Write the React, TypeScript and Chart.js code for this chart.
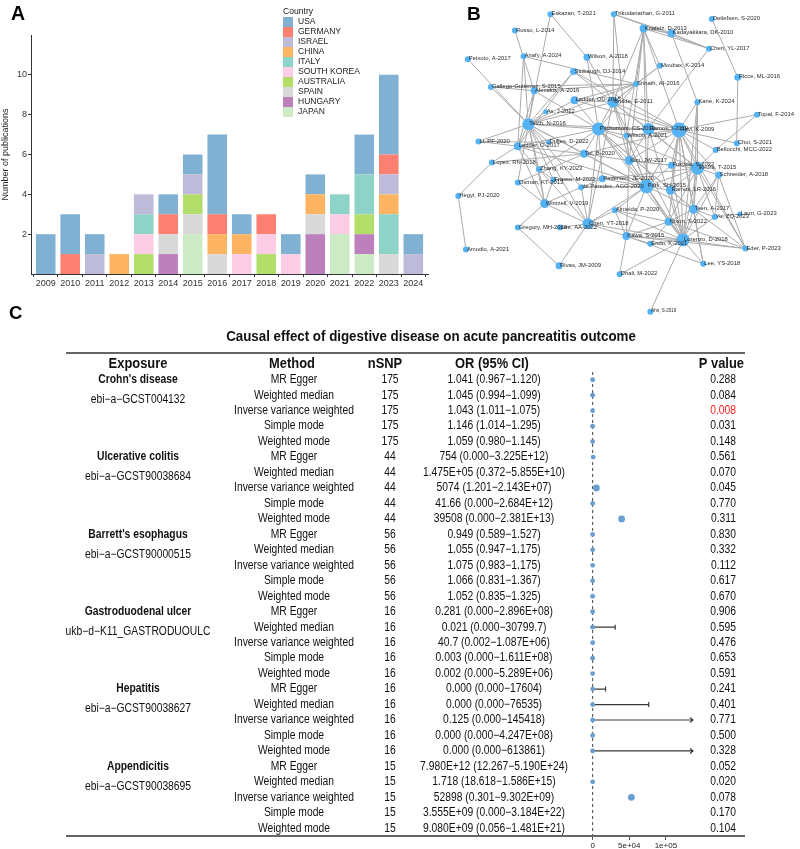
import React, { useEffect, useRef } from "react";
import { Chart, registerables } from "chart.js";
Chart.register(...registerables);

const SANS = '"Liberation Sans", Arial, Helvetica, sans-serif';
const NARROW_SX = 0.86;

// ---------------- Panel A data ----------------
const YEARS = [2009, 2010, 2011, 2012, 2013, 2014, 2015, 2016, 2017, 2018, 2019, 2020, 2021, 2022, 2023, 2024];
const COUNTRIES = ["USA", "GERMANY", "ISRAEL", "CHINA", "ITALY", "SOUTH KOREA", "AUSTRALIA", "SPAIN", "HUNGARY", "JAPAN"];
const COUNTRY_COLORS = ["#80B1D3", "#FB8072", "#BEBADA", "#FDB462", "#8DD3C7", "#FCCDE5", "#B3DE69", "#D9D9D9", "#BC80BD", "#CCEBC5"];
const USA = [2, 2, 1, 0, 0, 1, 1, 4, 1, 0, 1, 1, 0, 2, 4, 1];
const GERMANY = [0, 1, 0, 0, 0, 1, 0, 1, 0, 1, 0, 0, 0, 0, 1, 0];
const ISRAEL = [0, 0, 1, 0, 1, 0, 1, 0, 0, 0, 0, 0, 0, 0, 1, 1];
const CHINA = [0, 0, 0, 1, 0, 0, 0, 1, 1, 0, 0, 1, 0, 0, 1, 0];
const ITALY = [0, 0, 0, 0, 1, 0, 0, 0, 0, 0, 0, 0, 1, 2, 2, 0];
const SOUTH_KOREA = [0, 0, 0, 0, 1, 0, 0, 0, 1, 1, 1, 0, 1, 0, 0, 0];
const AUSTRALIA = [0, 0, 0, 0, 1, 0, 1, 0, 0, 1, 0, 0, 0, 1, 0, 0];
const SPAIN = [0, 0, 0, 0, 0, 1, 1, 1, 0, 0, 0, 1, 0, 0, 1, 0];
const HUNGARY = [0, 0, 0, 0, 0, 1, 0, 0, 0, 0, 0, 2, 0, 1, 0, 0];
const JAPAN = [0, 0, 0, 0, 0, 0, 2, 0, 0, 0, 0, 0, 2, 1, 0, 0];
const COUNTRY_COUNTS = [USA, GERMANY, ISRAEL, CHINA, ITALY, SOUTH_KOREA, AUSTRALIA, SPAIN, HUNGARY, JAPAN];
const Y_TICKS_A = [2, 4, 6, 8, 10];

// ---------------- Panel B data (network layout) ----------------
const NODE_IDS = ["ESK", "TRI", "DET", "RUS", "KNA", "KAD", "CYL", "PEI", "ANA", "WI18", "STO", "MOU", "RIC", "GAL", "ALE", "SRI", "LOD", "BRU", "KAN", "TOP", "ASJ", "TEI", "PIT", "RAM", "RAV", "WI21", "LIP", "LO17", "DUL", "CHO", "BEL", "TEL", "KIM", "LOP", "ZHA", "FUK", "KAT", "SCH", "OSM", "FRA", "PED", "DEP", "PAR", "RLR", "HEG", "WIN", "ALM", "TSE", "YUZ", "LAU", "GRE", "LAA", "CYT", "NIX", "KAW", "END", "LOR", "EDE", "AMO", "RIV", "LYS", "DHA", "AHN"];
const NODE_LABELS = ["Eskazan, T-2021", "Trikudanathan, G-2011", "Detlefsen, S-2020", "Russo, L-2014", "Knafelz, D-2013", "Kadayakkara, DK-2010", "Chen, YL-2017", "Peixoto, A-2017", "Anafy, A-2024", "Wilson, A-2018", "Stobaugh, DJ-2014", "Moubax, K-2014", "Ricce, ML-2016", "Gallego-Gutiérrez, S-2015", "Alexakis, A-2016", "Srinath, AI-2016", "Ledder, OD-2015", "Bruide, E-2011", "Kane, K-2024", "Topal, F-2014", "As, J-2022", "Teich, N-2016", "Pitchumoni, CS-2019", "Ramos, I-2019", "Ravi, K-2009", "Wilson, A-2021", "Li, PF-2020", "Ledder, O-2017", "Dulles, D-2022", "Choi, S-2021", "Bellocchi, MCC-2022", "Tel, B-2020", "Kim, JW-2017", "Lopez, RN-2018", "Zhang, KY-2023", "Fukuda, S-2022", "Ikeura, T-2015", "Schneider, A-2018", "Osman, KT-2013", "Frasso, M-2022", "Pedersen, JE-2020", "de Paredes, AGG-2020", "Park, SH-2015", "Ramos, LR-2016", "Hegyi, PJ-2020", "Wintzell, V-2019", "Almeida, P-2020", "Tsen, A-2017", "Yu, ZQ-2023", "Lauri, G-2023", "Gregory, MH-2020", "Lee, AA-2022", "Chen, YT-2018", "Nixon, S-2022", "Kawa, S-2015", "Endo, K-2021", "Lorenzo, D-2018", "Eder, P-2023", "Amodio, A-2021", "Rivas, JM-2009", "Lee, YS-2018", "Dhali, M-2022", "Ahn, S-2019"];
const NODE_X = [548, 614, 716, 511, 645, 674, 713, 462, 520, 586, 572, 662, 743, 486, 531, 637, 573, 613, 701, 763, 543, 525, 598, 650, 682, 627, 473, 514, 546, 742, 720, 583, 630, 487, 536, 674, 701, 723, 514, 551, 602, 580, 648, 673, 452, 542, 615, 697, 719, 745, 514, 558, 587, 671, 627, 652, 686, 751, 460, 557, 707, 620, 652];
const NODE_Y = [7, 7, 12, 24, 22, 27, 43, 54, 51, 52, 67, 61, 73, 83, 87, 80, 97, 99, 99, 112, 109, 122, 127, 127, 128, 134, 140, 145, 141, 142, 149, 153, 160, 162, 169, 165, 168, 175, 183, 180, 179, 188, 187, 191, 197, 205, 212, 211, 219, 216, 230, 230, 226, 224, 239, 247, 243, 252, 253, 270, 268, 279, 318];
const NODE_SIZE = [3, 3, 3, 3, 4, 4, 3, 3, 3, 3.5, 3.5, 3, 3.5, 3, 3.5, 3, 4, 5.5, 3, 3, 2.5, 6, 6.5, 6, 7.5, 3, 3, 4, 2.5, 3, 3, 4, 4.5, 3, 3, 3.5, 6.5, 3.5, 3, 3, 3.5, 3, 7, 4.5, 3, 4.5, 3, 4.5, 3, 2.5, 3, 3, 5.5, 4, 4, 3, 6.5, 3, 3, 3.5, 3, 3, 3];
const EDGES = [
  "ESK TEI", "ESK WI18", "RUS ALE", "PEI TEI", "ANA TEI", "ANA LO17", "ANA SRI", "GAL TEI", "GAL SRI", "GAL ALE",
  "WI18 PIT", "WI18 BRU", "STO TEI", "STO BRU", "STO RAV", "STO LO17", "TRI KAD", "TRI CYL", "TRI BRU", "TRI KIM",
  "KNA KAD", "KNA CYL", "KNA SRI", "KNA MOU", "KNA BRU", "KNA RAM", "KNA KIM", "KNA WI21", "KNA PAR", "KNA RAV",
  "KAD KAN", "KAD CYL", "CYL RAM", "DET RIC", "RIC CHO", "MOU SRI", "MOU BRU", "SRI BRU", "SRI PIT", "SRI TEI",
  "SRI ALE", "SRI LOD", "KAN RAV", "KAN KAT", "KAN TSE", "KAN LOR", "TOP RAV", "TOP BEL", "LOD BRU", "LOD PIT",
  "LOD TEI", "LOD RAV", "BRU PIT", "BRU RAV", "BRU RAM", "BRU TEI", "BRU KIM", "BRU PAR", "BRU KAT", "BRU LOR",
  "BRU CYT", "TEI PIT", "TEI LO17", "TEI ZHA", "TEI WIN", "TEI TEL", "TEI DUL", "TEI CYT", "TEI PAR", "TEI RAV",
  "TEI LIP", "TEI OSM", "TEI FRA", "TEI DEP", "TEI ASJ", "ALE TEI", "ALE PIT", "ALE LO17", "PIT RAV", "PIT RAM",
  "PIT WI21", "PIT KIM", "PIT PAR", "PIT KAT", "PIT LOR", "PIT TEL", "PIT CYT", "PIT PED", "PIT ZHA", "PIT LO17",
  "PIT RLR", "PIT TSE", "RAV RAM", "RAV KAT", "RAV PAR", "RAV LOR", "RAV SCH", "RAV BEL", "RAV CHO", "RAV KIM",
  "RAV TSE", "RAV FUK", "RAV RLR", "RAV NIX", "RAV WI21", "RAV LYS", "RAV EDE", "RAM KIM", "RAM PAR", "RAM KAT",
  "RAM LOR", "LIP LO17", "LIP DUL", "LO17 ZHA", "LO17 TEL", "LO17 WIN", "LO17 PAR", "LOP HEG", "LOP TEL", "LOP LO17",
  "HEG AMO", "TEL KIM", "TEL PAR", "TEL OSM", "TEL RAV", "KIM PAR", "KIM KAT", "KIM LOR", "KIM FUK", "KIM KAW",
  "KAT PAR", "KAT LOR", "KAT SCH", "KAT TSE", "KAT RLR", "KAT BEL", "KAT YUZ", "KAT EDE", "KAT NIX", "SCH TSE",
  "SCH YUZ", "SCH EDE", "SCH LOR", "PAR LOR", "PAR RLR", "PAR CYT", "PAR KAW", "PAR NIX", "PAR TSE", "PAR DEP",
  "PAR PED", "PAR ALM", "PAR FUK", "CYT WIN", "CYT LAA", "CYT DEP", "CYT RIV", "CYT KAW", "CYT LOR", "CYT ALM",
  "CYT ZHA", "GRE WIN", "GRE RIV", "WIN OSM", "WIN ZHA", "WIN FRA", "LOR TSE", "LOR NIX", "LOR KAW", "LOR END",
  "LOR EDE", "LOR LYS", "LOR AHN", "LOR DHA", "LOR YUZ", "KAW DHA", "KAW NIX", "KAW EDE", "KAW END", "KAW LYS",
  "TSE YUZ", "TSE LYS", "TSE EDE", "TSE NIX", "YUZ LAU", "NIX EDE", "NIX END", "FRA PED", "FRA ZHA", "DEP PED",
  "ALM NIX", "ALM LOR", "ALM KAW", "WI21 KIM", "WI21 PAR", "PED KAT", "DEP WIN", "FUK LOR", "RLR LOR", "RLR TSE"
];

// ---------------- Panel C data (MR forest table) ----------------
const EXPOSURES = ["Crohn's disease", "Ulcerative colitis", "Barrett's esophagus", "Gastroduodenal ulcer", "Hepatitis", "Appendicitis"];
const EXPOSURE_IDS = ["ebi−a−GCST004132", "ebi−a−GCST90038684", "ebi−a−GCST90000515", "ukb−d−K11_GASTRODUOULC", "ebi−a−GCST90038627", "ebi−a−GCST90038695"];
const METHODS = ["MR Egger", "Weighted median", "Inverse variance weighted", "Simple mode", "Weighted mode"];
const NSNP = [175, 44, 56, 16, 16, 15];
const OR_LABELS = [
  "1.041 (0.967−1.120)", "1.045 (0.994−1.099)", "1.043 (1.011−1.075)", "1.146 (1.014−1.295)", "1.059 (0.980−1.145)",
  "754 (0.000−3.225E+12)", "1.475E+05 (0.372−5.855E+10)", "5074 (1.201−2.143E+07)", "41.66 (0.000−2.684E+12)", "39508 (0.000−2.381E+13)",
  "0.949 (0.589−1.527)", "1.055 (0.947−1.175)", "1.075 (0.983−1.175)", "1.066 (0.831−1.367)", "1.052 (0.835−1.325)",
  "0.281 (0.000−2.896E+08)", "0.021 (0.000−30799.7)", "40.7 (0.002−1.087E+06)", "0.003 (0.000−1.611E+08)", "0.002 (0.000−5.289E+06)",
  "0.000 (0.000−17604)", "0.000 (0.000−76535)", "0.125 (0.000−145418)", "0.000 (0.000−4.247E+08)", "0.000 (0.000−613861)",
  "7.980E+12 (12.267−5.190E+24)", "1.718 (18.618−1.586E+15)", "52898 (0.301−9.302E+09)", "3.555E+09 (0.000−3.184E+22)", "9.080E+09 (0.056−1.481E+21)"
];
const OR_EST = [
  1.041, 1.045, 1.043, 1.146, 1.059,
  754, 1.475e5, 5074, 41.66, 39508,
  0.949, 1.055, 1.075, 1.066, 1.052,
  0.281, 0.021, 40.7, 0.003, 0.002,
  0.0, 0.0, 0.125, 0.0, 0.0,
  7.98e12, 1.718, 52898, 3.555e9, 9.08e9
];
const OR_LO = [
  0.967, 0.994, 1.011, 1.014, 0.98,
  0, 0.372, 1.201, 0, 0,
  0.589, 0.947, 0.983, 0.831, 0.835,
  0, 0, 0.002, 0, 0,
  0, 0, 0, 0, 0,
  12.267, 18.618, 0.301, 0, 0.056
];
const OR_HI = [
  1.12, 1.099, 1.075, 1.295, 1.145,
  3.225e12, 5.855e10, 2.143e7, 2.684e12, 2.381e13,
  1.527, 1.175, 1.175, 1.367, 1.325,
  2.896e8, 30799.7, 1.087e6, 1.611e8, 5.289e6,
  17604, 76535, 145418, 4.247e8, 613861,
  5.19e24, 1.586e15, 9.302e9, 3.184e22, 1.481e21
];
const P_VALUES = [
  0.288, 0.084, 0.008, 0.031, 0.148,
  0.561, 0.07, 0.045, 0.77, 0.311,
  0.83, 0.332, 0.112, 0.617, 0.67,
  0.906, 0.595, 0.476, 0.653, 0.591,
  0.241, 0.401, 0.771, 0.5, 0.328,
  0.052, 0.02, 0.078, 0.17, 0.104
];
const X_TICKS_C = [0, 50000, 100000];
const X_TICK_LABELS_C = ["0", "5e+04", "1e+05"];
const X_MIN_C = -20000;
const X_MAX_C = 137000;
const WHISKER_LIMIT = 1e6;

// ---------------- helpers ----------------
function text(ctx: CanvasRenderingContext2D, s: string, x: number, y: number, align: CanvasTextAlign, font: string, color = "#111", sx = 1) {
  ctx.save();
  ctx.translate(x, y);
  ctx.scale(sx, 1);
  ctx.font = font;
  ctx.fillStyle = color;
  ctx.textAlign = align;
  ctx.textBaseline = "middle";
  ctx.fillText(s, 0, 0);
  ctx.restore();
}

const legendPlugin = {
  id: "countryLegend",
  afterDraw(chart: any) {
    const ctx = chart.ctx as CanvasRenderingContext2D;
    ctx.save();
    text(ctx, "Country", 283, 12, "left", `8.6px ${SANS}`, "#222");
    COUNTRIES.forEach((c, i) => {
      const cy = 22 + i * 10;
      ctx.fillStyle = COUNTRY_COLORS[i];
      ctx.fillRect(283, cy - 5, 10, 10);
      text(ctx, c, 298, cy, "left", `8.5px ${SANS}`, "#222");
    });
    ctx.restore();
  },
};

const nodeLabelPlugin = {
  id: "nodeLabels",
  afterDatasetsDraw(chart: any) {
    const ctx = chart.ctx as CanvasRenderingContext2D;
    const meta = chart.getDatasetMeta(0);
    ctx.save();
    meta.data.forEach((el: any, i: number) => {
      const sz = NODE_IDS[i] === "AHN" ? 4.5 : 5.9;
      text(ctx, NODE_LABELS[i], el.x + 1, el.y - 0.5, "left", `${sz}px ${SANS}`, "#2a2a2a");
    });
    ctx.restore();
  },
};

const forestPlugin = {
  id: "forestDecor",
  beforeDatasetsDraw(chart: any) {
    const { ctx, chartArea } = chart;
    const x = chart.scales.x;
    const y = chart.scales.y;
    ctx.save();
    const x0 = x.getPixelForValue(0);
    ctx.strokeStyle = "#444";
    ctx.lineWidth = 1;
    ctx.setLineDash([3, 3]);
    ctx.beginPath();
    ctx.moveTo(x0, chartArea.top);
    ctx.lineTo(x0, chartArea.bottom);
    ctx.stroke();
    ctx.setLineDash([]);
    ctx.strokeStyle = "#3a3a3a";
    ctx.lineWidth = 1.2;
    OR_HI.forEach((hi, i) => {
      if (hi >= WHISKER_LIMIT) return;
      const lo = OR_LO[i];
      const xl = x.getPixelForValue(Math.max(lo, x.min));
      const clipped = hi > x.max;
      const xr = x.getPixelForValue(Math.min(hi, x.max));
      if (xr - xl < 3) return;
      const py = y.getPixelForValue(i);
      ctx.beginPath();
      ctx.moveTo(xl, py);
      ctx.lineTo(xr, py);
      if (clipped) {
        ctx.moveTo(xr - 3, py - 2.5);
        ctx.lineTo(xr, py);
        ctx.lineTo(xr - 3, py + 2.5);
      } else {
        ctx.moveTo(xr, py - 2.5);
        ctx.lineTo(xr, py + 2.5);
      }
      ctx.stroke();
    });
    ctx.restore();
  },
  afterDraw(chart: any) {
    const { ctx, chartArea } = chart;
    const y = chart.scales.y;
    const sx = NARROW_SX;
    ctx.save();
    text(ctx, "Causal effect of digestive disease on acute pancreatitis outcome", 431, 37, "center", `bold 15.5px ${SANS}`, "#111", sx);
    ctx.strokeStyle = "#666";
    ctx.lineWidth = 2;
    ctx.beginPath();
    ctx.moveTo(66, 53);
    ctx.lineTo(745, 53);
    ctx.moveTo(66, chartArea.bottom);
    ctx.lineTo(745, chartArea.bottom);
    ctx.stroke();
    const hf = `bold 15px ${SANS}`;
    text(ctx, "Exposure", 138, 64, "center", hf, "#111", sx);
    text(ctx, "Method", 292, 64, "center", hf, "#111", sx);
    text(ctx, "nSNP", 385, 64, "center", hf, "#111", sx);
    text(ctx, "OR (95% CI)", 492, 64, "center", hf, "#111", sx);
    text(ctx, "P value", 744, 64, "right", hf, "#111", sx);
    const rf = `12px ${SANS}`;
    const bf = `bold 12px ${SANS}`;
    EXPOSURES.forEach((exp, g) => {
      METHODS.forEach((m, k) => {
        const i = g * 5 + k;
        const py = y.getPixelForValue(i);
        if (k === 0) text(ctx, exp, 138, py, "center", bf, "#111", sx);
        if (k === 1) text(ctx, EXPOSURE_IDS[g], 138, y.getPixelForValue(i + 0.3), "center", rf, "#111", sx);
        text(ctx, m, 294, py, "center", rf, "#111", sx);
        text(ctx, String(NSNP[g]), 390, py, "center", rf, "#111", sx);
        text(ctx, OR_LABELS[i], 494, py, "center", rf, "#111", sx);
        const p = P_VALUES[i];
        text(ctx, p.toFixed(3), 736, py, "right", rf, p < 0.01 ? "#FF1A1A" : "#111", sx);
      });
    });
    ctx.restore();
  },
};

export default function App() {
  const refA = useRef<HTMLCanvasElement>(null);
  const refB = useRef<HTMLCanvasElement>(null);
  const refC = useRef<HTMLCanvasElement>(null);

  useEffect(() => {
    document.body.style.margin = "0";
    document.body.style.background = "#fff";

    // ---------- Panel A ----------
    const datasetsA = COUNTRIES.map((c, i) => ({
      label: c,
      data: YEARS.map((yr, j) => ({ x: yr, y: COUNTRY_COUNTS[i][j] })),
      backgroundColor: COUNTRY_COLORS[i],
      borderWidth: 0,
      categoryPercentage: 0.8,
      barPercentage: 1,
    })).reverse();

    const axisCol = "#333";
    const chartA = new Chart(refA.current!, {
      type: "bar",
      data: { datasets: datasetsA as any },
      options: {
        animation: false,
        responsive: false,
        layout: { padding: { top: 35, right: 2, left: 0, bottom: 0 } },
        plugins: { legend: { display: false }, tooltip: { enabled: false } },
        scales: {
          x: {
            type: "linear",
            stacked: true,
            min: 2008.4,
            max: 2024.6,
            offset: false,
            afterBuildTicks: (s: any) => { s.ticks = YEARS.map((v) => ({ value: v })); },
            afterFit: (s: any) => { s.height = 26; },
            ticks: { callback: (v: any) => String(v), font: { size: 9, family: SANS }, color: axisCol, padding: 1, maxRotation: 0, autoSkip: false },
            grid: { display: true, drawOnChartArea: false, drawTicks: true, tickLength: 3, color: axisCol },
            border: { display: true, color: axisCol, width: 1 },
          },
          y: {
            stacked: true,
            min: 0,
            max: 12,
            afterBuildTicks: (s: any) => { s.ticks = Y_TICKS_A.map((v) => ({ value: v })); },
            afterFit: (s: any) => { s.width = 31; },
            ticks: { font: { size: 9, family: SANS }, color: axisCol, padding: 1 },
            grid: { display: true, drawOnChartArea: false, drawTicks: true, tickLength: 3, color: axisCol },
            border: { display: true, color: axisCol, width: 1 },
            title: { display: true, text: "Number of publications", font: { size: 9, family: SANS }, color: "#222", padding: 0 },
          },
        },
      } as any,
      plugins: [legendPlugin],
    });

    // ---------- Panel B ----------
    const idx: Record<string, number> = {};
    NODE_IDS.forEach((id, i) => (idx[id] = i));
    const edgePts: any[] = [];
    EDGES.forEach((e) => {
      const [a, b] = e.split(" ").map((k) => idx[k]);
      edgePts.push({ x: NODE_X[a], y: NODE_Y[a] }, { x: NODE_X[b], y: NODE_Y[b] }, { x: NaN, y: NaN });
    });
    const chartB = new Chart(refB.current!, {
      type: "bubble",
      data: {
        datasets: [
          {
            type: "bubble",
            data: NODE_X.map((x, i) => ({ x, y: NODE_Y[i], r: NODE_SIZE[i] })),
            backgroundColor: "#55B2F3",
            borderWidth: 0,
            order: 0,
            clip: false,
          } as any,
          {
            type: "line",
            data: edgePts,
            borderColor: "#ababab",
            borderWidth: 1,
            pointRadius: 0,
            spanGaps: false,
            fill: false,
            tension: 0,
            order: 1,
            clip: false,
          } as any,
        ],
      },
      options: {
        animation: false,
        responsive: false,
        layout: { padding: 0 },
        plugins: { legend: { display: false }, tooltip: { enabled: false } },
        scales: {
          x: { type: "linear", min: 420, max: 800, display: false },
          y: { type: "linear", min: 0, max: 345, reverse: true, display: false },
        },
      } as any,
      plugins: [nodeLabelPlugin],
    });

    // ---------- Panel C ----------
    const pts = OR_EST.map((v, i) => ({ x: v, y: i })).filter((p) => p.x >= X_MIN_C && p.x <= X_MAX_C);
    const chartC = new Chart(refC.current!, {
      type: "scatter",
      data: {
        datasets: [
          {
            data: pts,
            backgroundColor: "#6A9ED3",
            borderWidth: 0,
            pointRadius: (c: any) => (c.raw && c.raw.x > 1000 ? 3.4 : 2.4),
            pointStyle: "circle",
          } as any,
        ],
      },
      options: {
        animation: false,
        responsive: false,
        layout: { padding: { left: 578, right: 107, top: 72, bottom: 0 } },
        plugins: { legend: { display: false }, tooltip: { enabled: false } },
        scales: {
          x: {
            type: "linear",
            min: X_MIN_C,
            max: X_MAX_C,
            afterBuildTicks: (s: any) => { s.ticks = X_TICKS_C.map((v) => ({ value: v })); },
            afterFit: (s: any) => { s.height = 13; },
            ticks: { callback: (_v: any, i: number) => X_TICK_LABELS_C[i], font: { size: 8, family: SANS }, color: "#222", padding: 1, maxRotation: 0, autoSkip: false },
            grid: { display: true, drawOnChartArea: false, drawTicks: true, tickLength: 4, color: "#555" },
            border: { display: false },
          },
          y: { type: "linear", min: -0.5, max: 29.5, reverse: true, display: false },
        },
      } as any,
      plugins: [forestPlugin],
    });

    return () => {
      chartA.destroy();
      chartB.destroy();
      chartC.destroy();
    };
  }, []);

  const lbl = (s: string, left: number, top: number, size: number) => (
    <div style={{ position: "absolute", left, top, font: `bold ${size}px ${SANS}`, lineHeight: 1, color: "#000" }}>{s}</div>
  );

  return (
    <div style={{ position: "relative", width: 800, height: 849, background: "#fff", overflow: "hidden" }}>
      <canvas ref={refA} width={430} height={300} style={{ position: "absolute", left: 0, top: 0, width: 430, height: 300 }} />
      <canvas ref={refB} width={380} height={345} style={{ position: "absolute", left: 420, top: 0, width: 380, height: 345 }} />
      <canvas ref={refC} width={800} height={549} style={{ position: "absolute", left: 0, top: 300, width: 800, height: 549 }} />
      {lbl("A", 11, 4, 19.5)}
      {lbl("B", 467, 4, 19)}
      {lbl("C", 9, 304, 18.5)}
    </div>
  );
}
